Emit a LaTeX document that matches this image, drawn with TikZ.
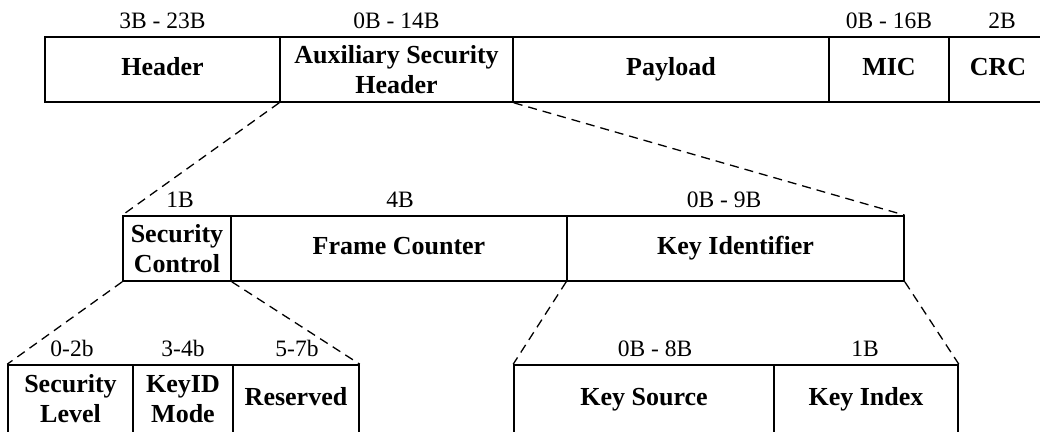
\documentclass[tikz,border=0pt]{standalone}
\usepackage{fontspec}
\setmainfont{Liberation Serif}
\begin{document}
\begin{tikzpicture}[x=1pt,y=-1pt,
  cell/.style={draw=black,line width=1.6pt,inner sep=0pt,align=center,
    font=\fontsize{26}{30}\selectfont\bfseries},
  one/.style={text height=18pt,text depth=5.5pt},
  size/.style={anchor=base,inner sep=0pt,font=\fontsize{23.5}{26}\selectfont},
  zoomline/.style={draw=black,line width=1.3pt,dash pattern=on 9pt off 6pt}]
\useasboundingbox (0,0) rectangle (1040,431);
% top row
\node[cell,one,minimum width=235pt,minimum height=65pt] (hdr) at (162.5,69.5) {Header};
\node[cell,minimum width=233pt,minimum height=65pt] (aux) at (396.5,69.5) {Auxiliary Security\\Header};
\node[cell,one,minimum width=316pt,minimum height=65pt] (pay) at (671,69.5) {Payload};
\node[cell,one,minimum width=120pt,minimum height=65pt] (mic) at (889,69.5) {MIC};
\node[cell,one,minimum width=98pt,minimum height=65pt] (crc) at (998,69.5) {CRC};
\node[size] (lhdr) at (162.5,28) {3B - 23B};
\node[size] (laux) at (396.5,28) {0B - 14B};
\node[size] (lmic) at (889,28) {0B - 16B};
\node[size] (lcrc) at (1002,28) {2B};
% middle row
\node[cell,minimum width=108pt,minimum height=65pt] (sc) at (177,248.5) {Security\\Control};
\node[cell,one,minimum width=336pt,minimum height=65pt] (fc) at (399,248.5) {Frame Counter};
\node[cell,one,minimum width=337pt,minimum height=65pt] (ki) at (735.5,248.5) {Key Identifier};
\node[size] (lsc) at (180,207) {1B};
\node[size] (lfc) at (400,207) {4B};
\node[size] (lki) at (724,207) {0B - 9B};
% bottom left row
\node[cell,minimum width=125pt,minimum height=68pt] (sl) at (70.5,399) {Security\\Level};
\node[cell,minimum width=100pt,minimum height=68pt] (km) at (183,399) {KeyID\\Mode};
\node[cell,one,minimum width=126pt,minimum height=68pt] (rs) at (296,399) {Reserved};
\node[size] (lsl) at (72,356) {0-2b};
\node[size] (lkm) at (183,356) {3-4b};
\node[size] (lrs) at (297,356) {5-7b};
% bottom right row
\node[cell,one,minimum width=260pt,minimum height=68pt] (ks) at (644,399) {Key Source};
\node[cell,one,minimum width=184pt,minimum height=68pt] (kx) at (866,399) {Key Index};
\node[size] (lks) at (655,356) {0B - 8B};
\node[size] (lkx) at (865,356) {1B};
% zoom connectors
\draw[zoomline] (aux.south west) -- (sc.north west);
\draw[zoomline] (aux.south east) -- (ki.north east);
\draw[zoomline] (sc.south west) -- (sl.north west);
\draw[zoomline] (sc.south east) -- (rs.north east);
\draw[zoomline] (ki.south west) -- (ks.north west);
\draw[zoomline] (ki.south east) -- (kx.north east);
\end{tikzpicture}
\end{document}
